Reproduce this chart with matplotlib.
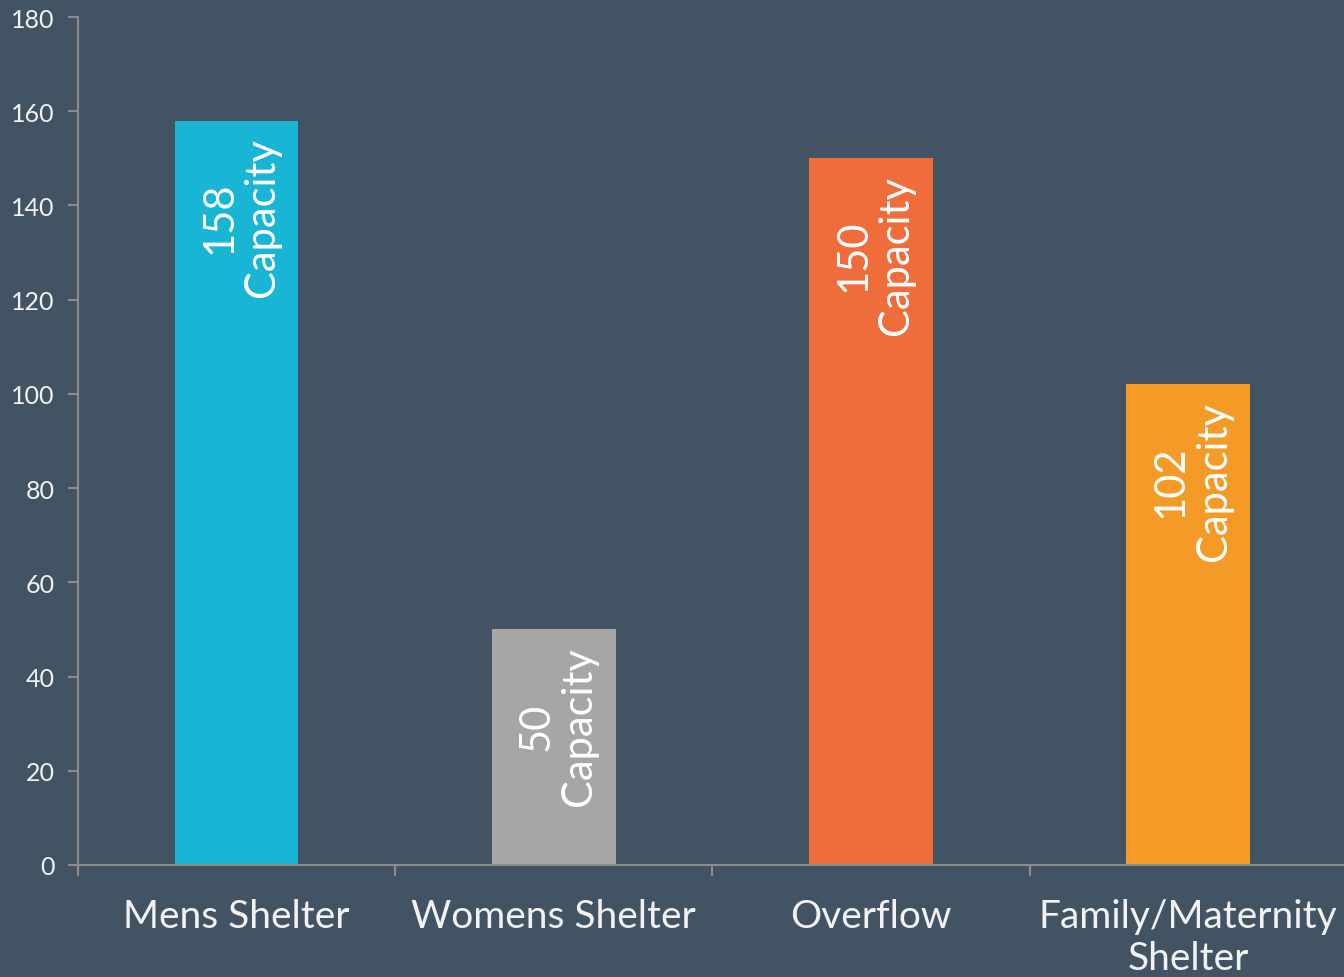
import matplotlib
matplotlib.use("Agg")
import matplotlib.pyplot as plt
import numpy as np

categories = ["Mens Shelter", "Womens Shelter", "Overflow", "Family/Maternity\nShelter"]
values = [158, 50, 150, 102]
bar_labels = ["158\nCapacity", "50\nCapacity", "150\nCapacity", "102\nCapacity"]
colors = ["#18B5D4", "#A6A6A6", "#EF6C3B", "#F39B26"]
yticks = [0, 20, 40, 60, 80, 100, 120, 140, 160, 180]

bg = "#425463"
plt.rcParams['font.family'] = ['Lato', 'DejaVu Sans']

fig = plt.figure(figsize=(13.44, 9.78), dpi=100, facecolor=bg)
ax = fig.add_axes([78/1344, 112/978, 1 - 78/1344 + 0.002, 848/978])
ax.set_facecolor(bg)

x = np.arange(len(categories))
ax.bar(x, values, width=0.39, color=colors, zorder=2)

ax.set_xlim(-0.5, 3.5)
ax.set_ylim(0, 180)
ax.set_yticks(yticks)
ax.set_yticklabels([str(t) for t in yticks], fontsize=18, color="#F2F2F2")
ax.tick_params(axis='y', direction='out', length=7, width=1.5, color="#8C8C8C", pad=10)

ax.set_xticks(x)
ax.set_xticklabels(categories, fontsize=28, color="#F2F2F2", linespacing=1.2)
ax.tick_params(axis='x', which='major', length=0, pad=24)
ax.set_xticks(np.arange(-0.5, 3.6, 1.0), minor=True)
ax.tick_params(axis='x', which='minor', direction='out', length=8, width=1.5, color="#8C8C8C")

for s in ['top', 'right']:
    ax.spines[s].set_visible(False)
for s in ['left', 'bottom']:
    ax.spines[s].set_color("#8C8C8C")
    ax.spines[s].set_linewidth(1.5)

for xi, v, lab in zip(x, values, bar_labels):
    ax.annotate(lab, xy=(xi, v), xytext=(3, -12), textcoords='offset points',
                rotation=90, ha='center', va='top', multialignment='center',
                fontsize=30, color="white", linespacing=1.15, zorder=3)

fig.savefig("out.png", dpi=100, facecolor=bg)
